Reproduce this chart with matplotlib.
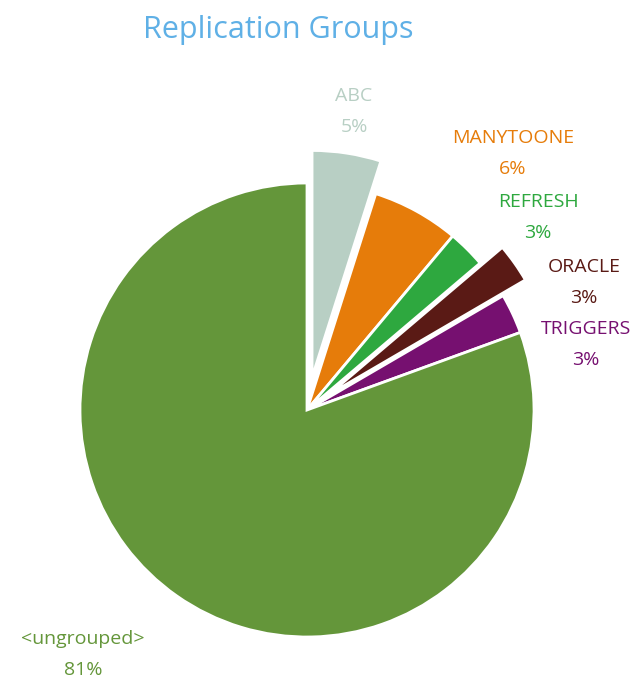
import matplotlib.pyplot as plt

plt.rcParams['font.family'] = ['Open Sans', 'DejaVu Sans']

groups = ['ABC', 'MANYTOONE', 'REFRESH', 'ORACLE', 'TRIGGERS', '<ungrouped>']
shares = [4.9, 6.2, 2.7, 2.8, 2.85, 80.55]
colors = ['#b8cfc4', '#e67c0a', '#2ea83f', '#5a1a15', '#761070', '#64963a']
explode = [0.145, 0, 0, 0.12, 0, 0]

# label anchor points in pixels (centre of name line)
label_px = [(354, 96), (513, 138), (538, 202), (584, 267), (586, 329), (83, 639)]

W, H = 637, 681
fig = plt.figure(figsize=(W / 100, H / 100), dpi=100)
ax = fig.add_axes([0, 0, 1, 1])

cx, cy, r = 307, 410, 227
ax.pie(shares, colors=colors, explode=explode, startangle=90, counterclock=False,
       wedgeprops=dict(edgecolor='white', linewidth=2))
ax.set_xlim(-cx / r, (W - cx) / r)
ax.set_ylim(-(H - cy) / r, cy / r)
ax.set_aspect('auto')
ax.axis('off')

total = sum(shares)
for name, val, col, (px, py) in zip(groups, shares, colors, label_px):
    pct = round(val / total * 100)
    fig.text(px / W, 1 - py / H, name, color=col, ha='center', va='center', fontsize=14)
    fig.text(px / W, 1 - (py + 31) / H, f'{pct}%', color=col, ha='center', va='center', fontsize=14)

fig.text(278 / W, 1 - 30 / H, 'Replication Groups', color='#5fb0e6', ha='center', va='center', fontsize=22)

fig.savefig('out.png', dpi=100)
